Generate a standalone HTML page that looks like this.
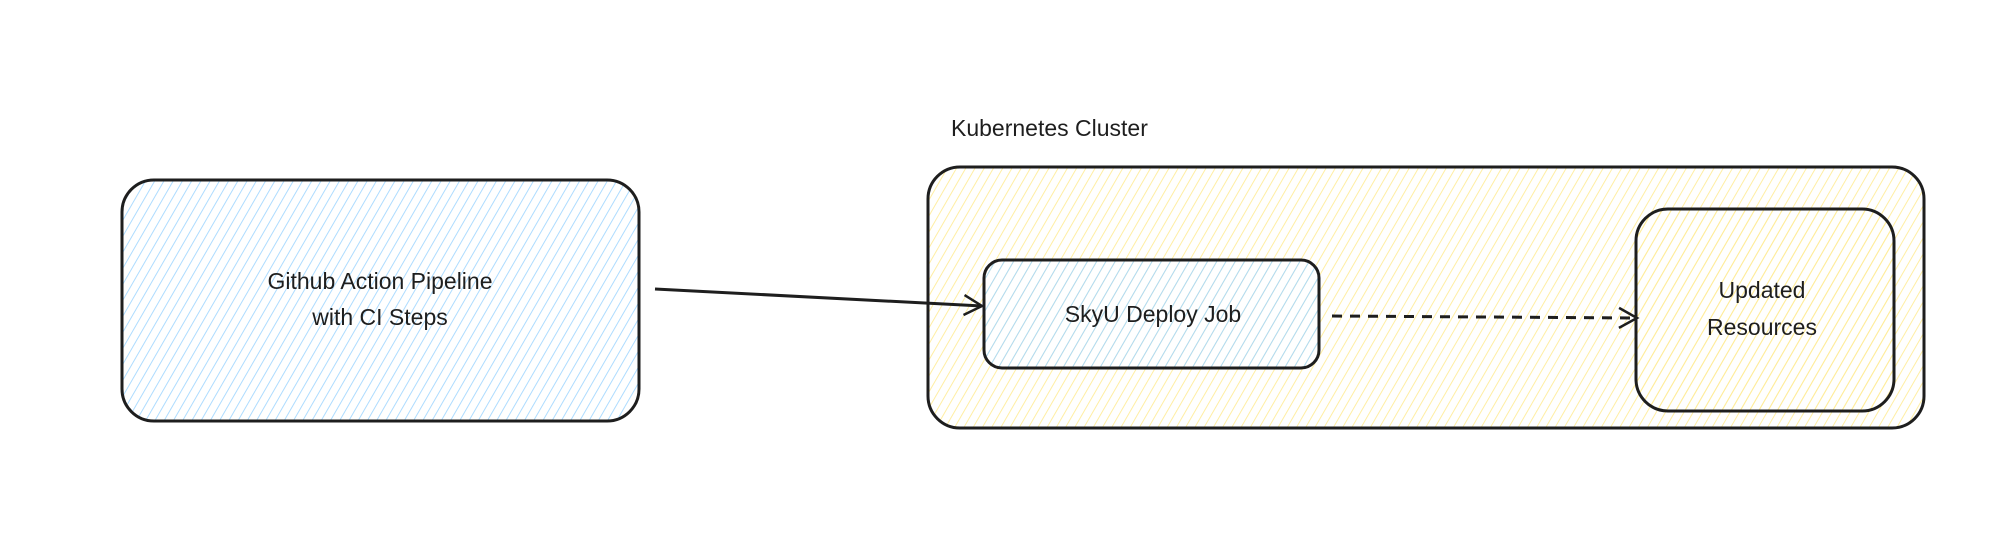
<!DOCTYPE html>
<html><head><meta charset="utf-8"><style>
html,body{margin:0;padding:0;background:#fff;width:2002px;height:556px;overflow:hidden}
svg{display:block}
text{font-family:"Liberation Sans",sans-serif;fill:#1e1e1e;font-size:23px}
</style></head><body>
<svg width="2002" height="556" viewBox="0 0 2002 556" xmlns="http://www.w3.org/2000/svg">
<defs>
<pattern id="hb" patternUnits="userSpaceOnUse" width="8" height="8" patternTransform="rotate(30)">
<line x1="0" y1="0" x2="0" y2="8" stroke="#a5d8ff" stroke-width="1.8"/></pattern>
<pattern id="hy" patternUnits="userSpaceOnUse" width="8" height="8" patternTransform="rotate(30)">
<line x1="0" y1="0" x2="0" y2="8" stroke="#ffec99" stroke-width="1.8"/></pattern>
<marker id="ah" markerWidth="24" markerHeight="24" refX="20" refY="12" orient="auto" markerUnits="userSpaceOnUse">
<path d="M2,2 L20,12 L2,22" fill="none" stroke="#1e1e1e" stroke-width="2.5"/></marker>
</defs>
<g stroke="#1e1e1e" stroke-width="3">
<rect x="122" y="180" width="517" height="241" rx="32" fill="url(#hb)"/>
<rect x="928" y="167" width="996" height="261" rx="32" fill="url(#hy)"/>
<rect x="984" y="260" width="335" height="108" rx="18" fill="url(#hb)"/>
<rect x="1636" y="209" width="258" height="202" rx="32" fill="url(#hy)"/>
<line x1="655" y1="289" x2="982" y2="306" marker-end="url(#ah)" fill="none"/>
<line x1="1332" y1="316" x2="1637" y2="318" stroke-dasharray="10 8" marker-end="url(#ah)" fill="none"/>
</g>
<text x="951" y="136">Kubernetes Cluster</text>
<text x="380" y="289" text-anchor="middle">Github Action Pipeline</text>
<text x="380" y="325" text-anchor="middle">with CI Steps</text>
<text x="1153" y="322" text-anchor="middle">SkyU Deploy Job</text>
<text x="1762" y="298" text-anchor="middle">Updated</text>
<text x="1762" y="335" text-anchor="middle">Resources</text>
</svg>
</body></html>
